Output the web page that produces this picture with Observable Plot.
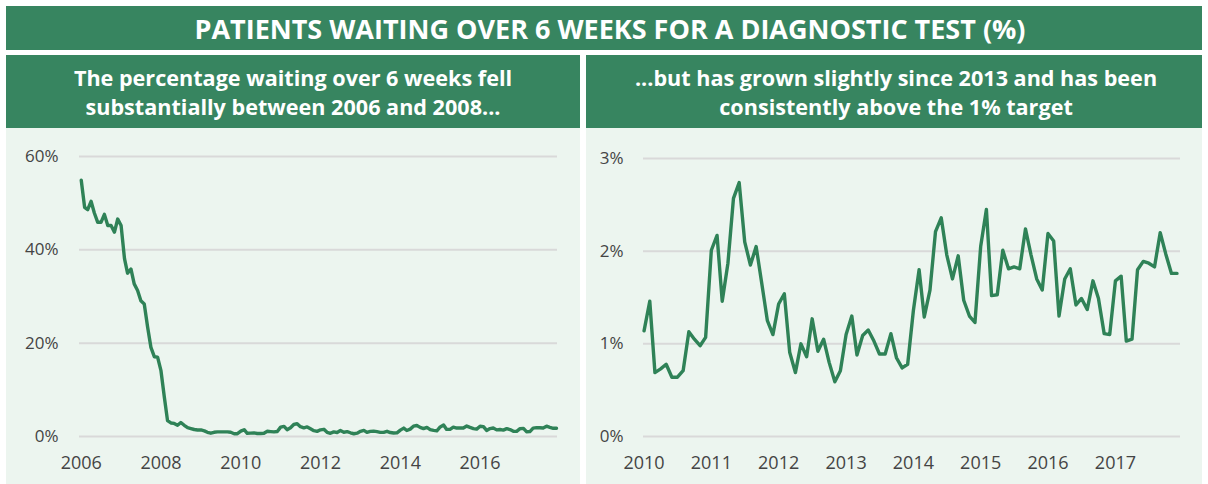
<!DOCTYPE html>
<html><head><meta charset="utf-8">
<script src="https://cdn.jsdelivr.net/npm/d3@7"></script>
<script src="https://cdn.jsdelivr.net/npm/@observablehq/plot@0.6"></script>
<style>
body{margin:0;background:#fff;font-family:"Open Sans",sans-serif;}
#wrap{position:relative;width:1208px;height:484px;overflow:hidden;}
.bar{position:absolute;background:#378560;color:#fff;font-weight:700;text-align:center;display:flex;align-items:center;justify-content:center;box-sizing:border-box;}
#title{left:6px;top:6px;width:1196px;height:44px;font-size:27px;padding-left:12px;}
.sub{top:55px;height:73px;font-size:21.6px;line-height:29px;}
#subL{left:6px;width:574px;}
#subR{left:586px;width:616px;padding-left:4px;}
.panel{position:absolute;top:128px;height:356px;background:#ecf5ef;}
#panL{left:6px;width:574px;}
#panR{left:586px;width:616px;}
.panel svg g[aria-label="x-axis tick label"]{font-size:18px;}
</style></head>
<body>
<div id="wrap">
  <div id="title" class="bar">PATIENTS WAITING OVER 6 WEEKS FOR A DIAGNOSTIC TEST (%)</div>
  <div id="subL" class="bar sub">The percentage waiting over 6 weeks fell<br>substantially between 2006 and 2008...</div>
  <div id="subR" class="bar sub">...but has grown slightly since 2013 and has been<br>consistently above the 1% target</div>
  <div id="panL" class="panel"></div>
  <div id="panR" class="panel"></div>
</div>
<script>
// Monthly % waiting over 6 weeks, Jan 2006 - Dec 2009
const values2006to2009 = [
  54.9, 49.1, 48.6, 50.4, 47.9, 45.9, 45.9, 47.6, 45.2, 45.2, 43.8, 46.6,
  45.2, 38.1, 35.0, 35.9, 32.7, 31.3, 29.1, 28.4, 23.4, 19.1, 17.1, 17.0,
  14.1, 8.4, 3.4, 2.9, 2.8, 2.4, 3.0, 2.4, 1.9, 1.7, 1.5, 1.4,
  1.4, 1.2, 0.9, 0.7, 0.9, 1.0, 1.0, 1.0, 1.0, 0.9, 0.6, 0.6
];
// Monthly % waiting over 6 weeks, Jan 2010 - Dec 2017
const values2010to2017 = [
  1.14, 1.46, 0.69, 0.73, 0.78, 0.64, 0.64, 0.71, 1.13, 1.05, 0.98, 1.07,
  2.01, 2.17, 1.46, 1.87, 2.57, 2.74, 2.10, 1.85, 2.05, 1.66, 1.25, 1.10,
  1.43, 1.54, 0.91, 0.69, 1.00, 0.86, 1.27, 0.92, 1.05, 0.80, 0.59, 0.71,
  1.10, 1.30, 0.88, 1.09, 1.15, 1.03, 0.89, 0.89, 1.11, 0.85, 0.74, 0.78,
  1.36, 1.80, 1.29, 1.58, 2.21, 2.36, 1.96, 1.70, 1.95, 1.47, 1.30, 1.23,
  2.05, 2.45, 1.52, 1.53, 2.01, 1.81, 1.83, 1.81, 2.24, 1.96, 1.70, 1.58,
  2.19, 2.11, 1.30, 1.70, 1.81, 1.42, 1.49, 1.37, 1.68, 1.49, 1.11, 1.10,
  1.68, 1.73, 1.03, 1.05, 1.80, 1.89, 1.87, 1.83, 2.20, 1.97, 1.76, 1.76
];
const leftYearTicks = [2006, 2008, 2010, 2012, 2014, 2016];
const rightYearTicks = [2010, 2011, 2012, 2013, 2014, 2015, 2016, 2017];
const leftPctTicks = [0, 20, 40, 60];
const rightPctTicks = [0, 1, 2, 3];

const monthly = (startYear, vals) => vals.map((v, i) => ({date: new Date(Date.UTC(startYear, i, 1)), value: v}));
const leftData = monthly(2006, values2006to2009.concat(values2010to2017));
const rightData = monthly(2010, values2010to2017);
const yr = y => new Date(Date.UTC(y, 0, 1));

const LINE = "#2f8257";
const GRID = "#d9d9d9";
const common = {
  height: 356,
  marginTop: 28, marginBottom: 48,
  style: {background: "transparent", fontFamily: "'Open Sans', sans-serif", fontSize: "17px", color: "#444", overflow: "visible"}
};

const left = Plot.plot({
  ...common,
  width: 574, marginLeft: 73, marginRight: 23,
  x: {type: "utc", domain: [new Date(Date.UTC(2005, 11, 16)), new Date(Date.UTC(2017, 11, 10))],
      ticks: leftYearTicks.map(yr), tickFormat: d => String(d.getUTCFullYear()), tickSize: 0, tickPadding: 20, label: null},
  y: {domain: [0, 60], ticks: leftPctTicks, tickFormat: d => d + "%", tickSize: 0, tickPadding: 21, label: null},
  marks: [
    Plot.ruleY(leftPctTicks, {stroke: GRID, strokeWidth: 2}),
    Plot.lineY(leftData, {x: "date", y: "value", stroke: LINE, strokeWidth: 3.4})
  ]
});
document.getElementById("panL").appendChild(left);

const right = Plot.plot({
  ...common,
  marginTop: 30,
  width: 616, marginLeft: 57, marginRight: 22,
  x: {type: "utc", domain: [new Date(Date.UTC(2009, 11, 29)), new Date(Date.UTC(2017, 11, 20))],
      ticks: rightYearTicks.map(yr), tickFormat: d => String(d.getUTCFullYear()), tickSize: 0, tickPadding: 20, label: null},
  y: {domain: [0, 3], ticks: rightPctTicks, tickFormat: d => d + "%", tickSize: 0, tickPadding: 20, label: null},
  marks: [
    Plot.ruleY(rightPctTicks, {stroke: GRID, strokeWidth: 2}),
    Plot.lineY(rightData, {x: "date", y: "value", stroke: LINE, strokeWidth: 3.4})
  ]
});
document.getElementById("panR").appendChild(right);
</script>
</body></html>
